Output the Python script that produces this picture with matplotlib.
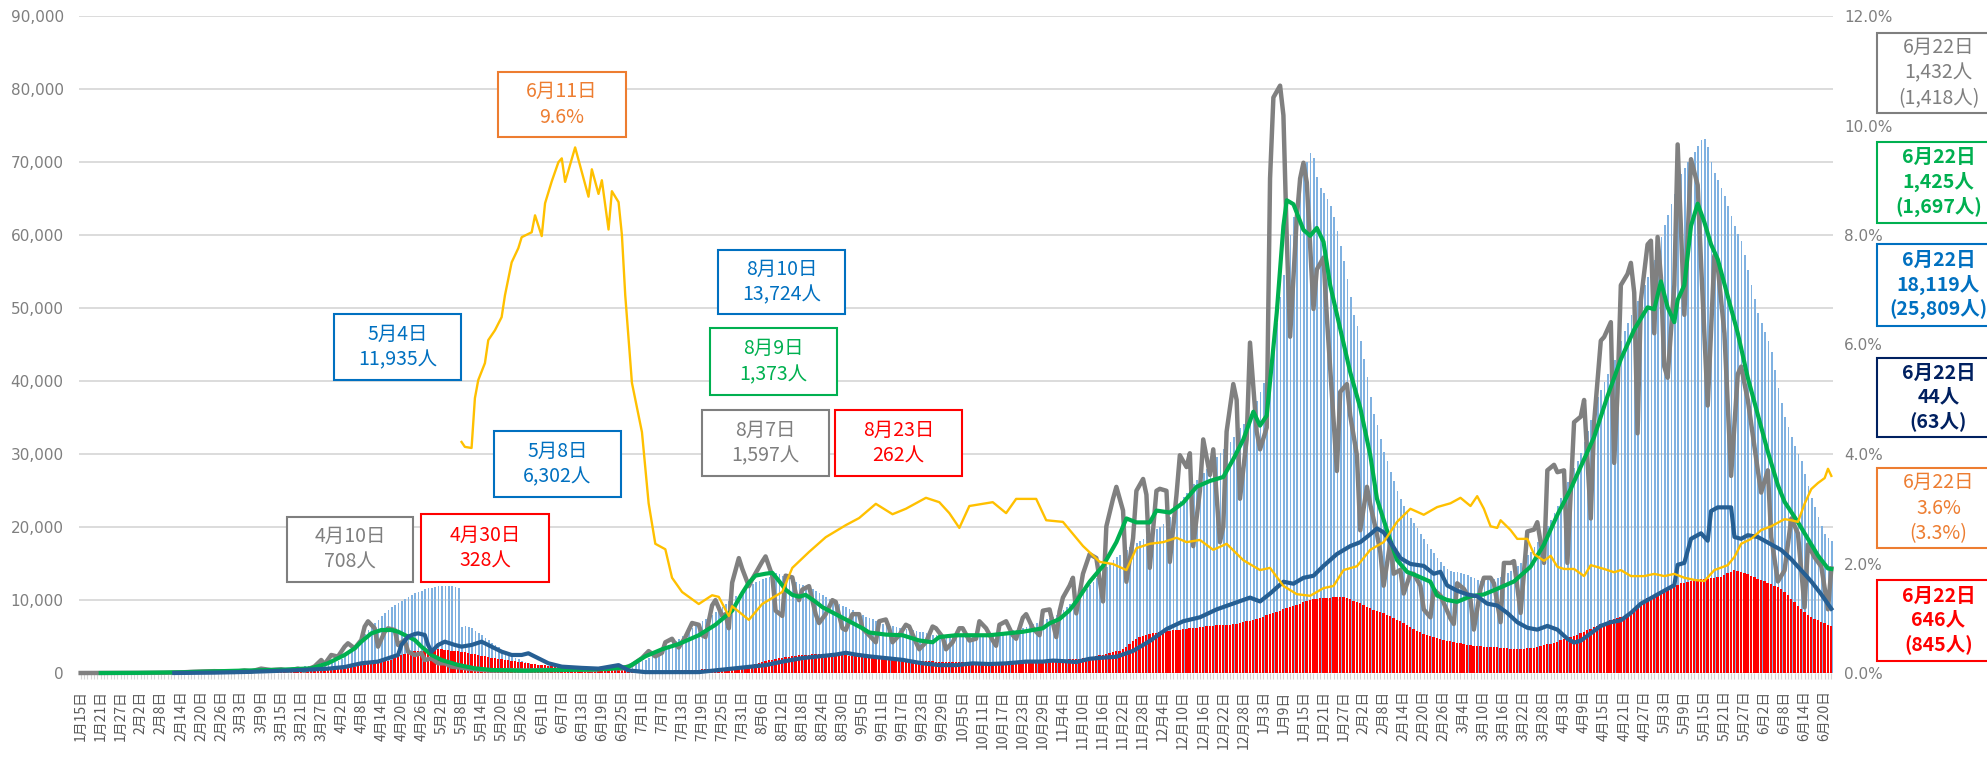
import numpy as np
import pandas as pd
import matplotlib
matplotlib.use('Agg')
import matplotlib.pyplot as plt
from matplotlib.patches import Rectangle
from matplotlib.ticker import FuncFormatter, MultipleLocator, FixedLocator

plt.rcParams['font.family'] = ['Noto Sans CJK JP', 'DejaVu Sans']

START = '2020-01-15'
END = '2021-06-22'

# ---- daily bars: patients requiring treatment (hundreds of people), by month ----
BLUE_HUNDREDS = [
    [0] * 17,
    [0] * 10 + [1] * 10 + [2] * 9,
    [2, 2, 2.5, 3, 3, 3.5, 4, 4, 4.5, 4.5, 5, 5, 5.5, 6, 6, 6.5, 7, 7, 7.5, 8,
     8.5, 9, 9.5, 10, 10.5, 11, 12, 12.5, 13.5, 14, 15],
    [16, 19, 23, 27, 31, 36, 42, 48, 54, 59, 64, 68, 73, 78, 82, 86, 90, 93, 96, 98,
     101, 104, 107, 109, 111, 113, 115, 116, 117, 118],
    [118.5, 119, 119, 119.35, 119, 118, 117, 63.02, 64, 63, 61, 58, 55, 52, 48, 45, 41,
     38, 35, 31, 28, 25, 23, 21, 19, 17, 15, 14, 13, 12, 11.5],
    [11, 10.5, 10, 9.5, 9, 8.5, 8.2, 8, 7.8, 7.6, 7.5, 7.4, 7.3, 7.2, 7.1, 7, 7, 7, 7, 7.1,
     7.2, 7.4, 7.6, 8, 8.5, 9, 10, 11, 12.5, 14],
    [16, 18, 20.5, 23, 26, 29, 32, 35, 38, 41, 44, 47, 51, 55, 58, 62, 65, 68, 71, 74,
     77, 80, 83, 87, 91, 94, 98, 101, 105, 108, 112],
    [116, 119, 122, 124, 126.5, 128.5, 130.5, 132, 134, 137.24, 135, 133.5, 131, 128.5, 126,
     124, 122.5, 121, 119.5, 117, 114.5, 112, 109.5, 107, 104, 101, 98.5, 96, 94, 92, 90],
    [88, 86, 83, 81, 79, 77, 75.5, 73.5, 71.5, 69.5, 67.5, 66, 65, 64, 63, 62, 61.5, 60.5,
     59.5, 58.5, 57.5, 56.5, 55.5, 54.5, 53.5, 52.5, 52, 51.5, 51.5, 51.5],
    [51.5, 51, 51, 51, 51, 51, 51, 51.5, 51.5, 52, 52.5, 53, 53.5, 54, 54.5, 55, 55.5, 56.5,
     57.5, 58.5, 59.5, 60.5, 61.5, 63, 65, 67, 69, 70.5, 72, 73.5, 75],
    [77, 79, 82, 86, 90, 94, 98, 102, 107, 111, 115, 120, 125, 130, 135, 140, 145, 150, 155,
     159, 162, 166, 169, 172, 175, 178, 181, 184, 188, 191],
    [194, 197, 200, 204, 208, 214, 221, 228, 235, 241, 247, 253, 259, 264, 269, 274, 280, 285,
     290, 296, 301, 307, 312, 317, 323, 329, 335, 341, 348, 355, 363],
    [372, 385, 397, 409, 421, 450, 480, 515, 545, 575, 600, 625, 645, 665, 685, 700, 712, 705,
     680, 665, 658, 650, 640, 625, 605, 585, 565, 540, 515, 490, 475],
    [455, 430, 405, 378, 355, 340, 320, 303, 290, 276, 263, 249, 238, 229, 220, 212, 205, 198,
     191, 184, 177, 170, 164, 158, 152, 147, 142, 140],
    [139, 138, 137, 136, 134, 132, 130, 128, 126, 126, 127, 128, 129, 130, 132, 134, 137, 140,
     143, 147, 151, 156, 161, 166, 172, 179, 186, 194, 201, 209, 219],
    [229, 240, 251, 261, 271, 281, 291, 301, 316, 331, 347, 363, 378, 388, 398, 409, 419, 429,
     442, 455, 468, 480, 490, 500, 510, 520, 531, 542, 554, 566],
    [580, 597, 614, 628, 642, 656, 670, 683, 692, 700, 707, 714, 722, 730, 732, 720, 700, 685,
     675, 664, 653, 640, 626, 612, 602, 592, 572, 552, 532, 512, 493],
    [480, 467, 455, 440, 415, 390, 370, 351, 337, 323, 311, 300, 290, 273, 256, 240, 227, 214,
     202, 191, 185, 181.19],
]

# ---- daily bars: severe cases (people), by month; drawn x10 on the left axis ----
RED_SEVERE = [
    [0] * 17,
    [0] * 15 + [1, 1, 2, 2, 3, 3, 4, 4, 5, 5, 6, 6, 7, 8],
    [8, 9, 10, 11, 12, 13, 14, 15, 16, 17, 18, 19, 20, 21, 22, 23, 24, 26, 28, 30,
     32, 34, 36, 38, 40, 42, 45, 48, 51, 54, 57],
    [60, 62, 66, 72, 78, 87, 95, 103, 111, 118, 125, 132, 141, 150, 159, 168, 178, 200, 222,
     240, 260, 278, 292, 297, 300, 303, 306, 312, 320, 328],
    [325, 322, 318, 314, 308, 302, 296, 290, 282, 274, 265, 255, 245, 236, 227, 218, 209, 200,
     193, 186, 179, 172, 165, 158, 151, 144, 137, 131, 125, 119, 114],
    [108, 104, 100, 96, 92, 88, 84, 80, 76, 73, 70, 67, 64, 61, 58, 56, 54, 52, 50, 48,
     46, 44, 42, 41, 40, 39, 38, 37, 36, 35],
    [34, 33, 32, 32, 32, 32, 32, 33, 33, 34, 35, 36, 37, 38, 40, 42, 44, 46, 48, 50,
     53, 56, 59, 62, 65, 68, 72, 76, 80, 85, 90],
    [95, 105, 115, 125, 135, 148, 160, 172, 183, 194, 204, 212, 219, 225, 230, 235, 240, 244,
     248, 252, 256, 259, 262, 260, 258, 256, 254, 251, 248, 244, 240],
    [236, 232, 228, 224, 220, 216, 212, 208, 204, 200, 197, 194, 191, 188, 185, 182, 179, 176,
     173, 170, 168, 166, 164, 162, 160, 158, 156, 154, 152, 150],
    [149, 148, 147, 146, 145, 144, 143, 142, 141, 140, 139, 139, 139, 140, 141, 142, 143, 144,
     145, 147, 149, 151, 153, 155, 157, 159, 161, 163, 165, 167, 170],
    [172, 174, 176, 178, 181, 185, 189, 193, 197, 202, 208, 215, 222, 230, 240, 250, 260, 270,
     282, 295, 308, 322, 360, 400, 440, 470, 490, 505, 520, 535],
    [545, 552, 560, 567, 574, 579, 584, 589, 595, 600, 605, 611, 616, 622, 627, 632, 638, 643,
     649, 654, 656, 658, 660, 663, 665, 675, 686, 697, 708, 719, 730],
    [740, 755, 772, 790, 806, 822, 838, 855, 871, 887, 903, 920, 936, 952, 966, 980, 994, 1008,
     1020, 1024, 1028, 1031, 1034, 1037, 1040, 1043, 1035, 1022, 1007, 990, 972],
    [955, 928, 900, 884, 868, 851, 834, 817, 795, 774, 752, 731, 709, 682, 655, 628, 601, 574,
     558, 541, 525, 508, 492, 478, 465, 451, 438, 432],
    [425, 416, 407, 398, 389, 382, 376, 371, 366, 363, 360, 357, 354, 351, 347, 342, 338, 334,
     331, 332, 333, 335, 338, 341, 349, 358, 368, 379, 391, 403, 417],
    [431, 447, 464, 480, 495, 510, 526, 543, 563, 583, 603, 624, 645, 665, 685, 705, 725, 746,
     760, 773, 787, 802, 822, 860, 900, 940, 985, 1026, 1045, 1065],
    [1085, 1105, 1125, 1146, 1166, 1187, 1208, 1229, 1239, 1249, 1259, 1269, 1279, 1284, 1289,
     1294, 1300, 1305, 1310, 1320, 1340, 1365, 1390, 1413, 1400, 1390, 1375, 1355, 1335, 1310, 1285],
    [1270, 1254, 1234, 1214, 1193, 1173, 1152, 1108, 1064, 1020, 970, 920, 873, 836, 800, 764,
     740, 720, 700, 680, 660, 646],
]

# ---- lines (left axis units) ----
GREY_LINE = [
    ('2020-01-15', 0), ('2020-01-31', 20), ('2020-02-09', 30), ('2020-02-14', 80), ('2020-02-17', 150),
    ('2020-02-20', 200), ('2020-02-24', 250), ('2020-02-28', 200), ('2020-03-01', 150), ('2020-03-04', 350),
    ('2020-03-06', 200), ('2020-03-09', 600), ('2020-03-12', 400), ('2020-03-15', 500), ('2020-03-17', 300),
    ('2020-03-20', 600), ('2020-03-22', 300), ('2020-03-25', 900), ('2020-03-27', 1780), ('2020-03-28', 1200),
    ('2020-03-30', 2470), ('2020-04-01', 2240), ('2020-04-03', 3610), ('2020-04-04', 4070), ('2020-04-06', 3380),
    ('2020-04-08', 4520), ('2020-04-09', 6350), ('2020-04-10', 7080), ('2020-04-12', 6120), ('2020-04-13', 3610),
    ('2020-04-15', 5660), ('2020-04-16', 6120), ('2020-04-18', 5890), ('2020-04-19', 3840), ('2020-04-21', 4520),
    ('2020-04-22', 2920), ('2020-04-24', 2470), ('2020-04-26', 2700), ('2020-04-27', 1780), ('2020-04-29', 2010),
    ('2020-05-01', 1330), ('2020-05-03', 1330), ('2020-05-05', 870), ('2020-05-07', 780), ('2020-05-12', 500),
    ('2020-05-17', 320), ('2020-05-22', 400), ('2020-05-27', 320), ('2020-06-01', 400), ('2020-06-06', 410),
    ('2020-06-11', 500), ('2020-06-16', 400), ('2020-06-21', 700), ('2020-06-25', 600), ('2020-06-28', 1080),
    ('2020-07-01', 2040), ('2020-07-03', 3000), ('2020-07-05', 2280), ('2020-07-07', 2770), ('2020-07-08', 4210),
    ('2020-07-10', 4690), ('2020-07-11', 3970), ('2020-07-12', 3490), ('2020-07-14', 4930), ('2020-07-16', 6850),
    ('2020-07-18', 6610), ('2020-07-19', 5170), ('2020-07-20', 4930), ('2020-07-22', 9260), ('2020-07-23', 9980),
    ('2020-07-25', 7820), ('2020-07-26', 8060), ('2020-07-27', 6130), ('2020-07-28', 12380), ('2020-07-30', 15740),
    ('2020-07-31', 14300), ('2020-08-02', 11900), ('2020-08-03', 12860), ('2020-08-06', 15260), ('2020-08-07', 15970),
    ('2020-08-09', 13340), ('2020-08-10', 8540), ('2020-08-12', 7820), ('2020-08-13', 13340), ('2020-08-15', 13100),
    ('2020-08-16', 10940), ('2020-08-17', 9980), ('2020-08-18', 11420), ('2020-08-20', 11900), ('2020-08-22', 8060),
    ('2020-08-23', 6850), ('2020-08-25', 8060), ('2020-08-27', 9980), ('2020-08-28', 9740), ('2020-08-30', 6130),
    ('2020-08-31', 5890), ('2020-09-02', 8060), ('2020-09-04', 8060), ('2020-09-05', 6130), ('2020-09-07', 5170),
    ('2020-09-09', 4210), ('2020-09-10', 7090), ('2020-09-12', 7330), ('2020-09-13', 6130), ('2020-09-14', 4210),
    ('2020-09-16', 5170), ('2020-09-18', 6610), ('2020-09-19', 6370), ('2020-09-21', 4210), ('2020-09-22', 3250),
    ('2020-09-24', 4210), ('2020-09-26', 6370), ('2020-09-27', 6130), ('2020-09-29', 4930), ('2020-09-30', 3250),
    ('2020-10-02', 4210), ('2020-10-04', 6130), ('2020-10-05', 6130), ('2020-10-07', 4450), ('2020-10-09', 4690),
    ('2020-10-10', 7090), ('2020-10-12', 6130), ('2020-10-14', 4450), ('2020-10-15', 3730), ('2020-10-16', 6610),
    ('2020-10-18', 7090), ('2020-10-20', 5170), ('2020-10-21', 4690), ('2020-10-23', 7570), ('2020-10-24', 8060),
    ('2020-10-26', 6130), ('2020-10-28', 5170), ('2020-10-29', 8540), ('2020-10-31', 8710), ('2020-11-02', 4920),
    ('2020-11-03', 8440), ('2020-11-04', 10330), ('2020-11-06', 11960), ('2020-11-07', 13040), ('2020-11-08', 8170),
    ('2020-11-10', 13590), ('2020-11-12', 16280), ('2020-11-14', 15750), ('2020-11-16', 9800), ('2020-11-17', 20080),
    ('2020-11-19', 23870), ('2020-11-20', 25500), ('2020-11-22', 22250), ('2020-11-23', 12500), ('2020-11-25', 18460),
    ('2020-11-26', 24960), ('2020-11-28', 26580), ('2020-11-29', 24420), ('2020-11-30', 14400), ('2020-12-02', 24960),
    ('2020-12-03', 25230), ('2020-12-05', 24960), ('2020-12-06', 15210), ('2020-12-08', 24420), ('2020-12-09', 29830),
    ('2020-12-11', 28210), ('2020-12-12', 30100), ('2020-12-13', 17380), ('2020-12-15', 24960), ('2020-12-16', 32000),
    ('2020-12-18', 27130), ('2020-12-19', 30640), ('2020-12-21', 17920), ('2020-12-22', 20080), ('2020-12-23', 33080),
    ('2020-12-25', 39580), ('2020-12-26', 37410), ('2020-12-27', 23870), ('2020-12-29', 32000), ('2020-12-30', 45260),
    ('2021-01-01', 33080), ('2021-01-02', 30640), ('2021-01-04', 33620), ('2021-01-05', 67740), ('2021-01-06', 78840),
    ('2021-01-08', 80460), ('2021-01-09', 76400), ('2021-01-10', 59610), ('2021-01-11', 46070), ('2021-01-13', 62320),
    ('2021-01-14', 67740), ('2021-01-15', 69900), ('2021-01-16', 67190), ('2021-01-18', 49870), ('2021-01-19', 55280),
    ('2021-01-21', 56910), ('2021-01-22', 48780), ('2021-01-25', 27670), ('2021-01-26', 38500), ('2021-01-28', 39580),
    ('2021-01-29', 35250), ('2021-01-31', 29830), ('2021-02-01', 19550), ('2021-02-03', 25500), ('2021-02-04', 23060),
    ('2021-02-06', 19000), ('2021-02-07', 16560), ('2021-02-08', 11960), ('2021-02-10', 17920), ('2021-02-11', 13590),
    ('2021-02-13', 14130), ('2021-02-14', 10880), ('2021-02-16', 13590), ('2021-02-17', 13590), ('2021-02-19', 11960),
    ('2021-02-20', 8710), ('2021-02-22', 7630), ('2021-02-23', 11420), ('2021-02-25', 10610), ('2021-02-28', 7470),
    ('2021-03-01', 6710), ('2021-03-02', 12290), ('2021-03-04', 11530), ('2021-03-06', 10030), ('2021-03-07', 5950),
    ('2021-03-09', 11530), ('2021-03-10', 13050), ('2021-03-12', 13050), ('2021-03-13', 12290), ('2021-03-15', 6960),
    ('2021-03-16', 15080), ('2021-03-18', 15080), ('2021-03-19', 15330), ('2021-03-21', 8230), ('2021-03-23', 19390),
    ('2021-03-25', 19640), ('2021-03-26', 20660), ('2021-03-28', 15080), ('2021-03-29', 27760), ('2021-03-31', 28520),
    ('2021-04-01', 27510), ('2021-04-03', 27760), ('2021-04-04', 15080), ('2021-04-06', 34360), ('2021-04-08', 35120),
    ('2021-04-09', 37400), ('2021-04-11', 21160), ('2021-04-12', 34360), ('2021-04-14', 45520), ('2021-04-15', 46030),
    ('2021-04-17', 48060), ('2021-04-18', 28780), ('2021-04-19', 38410), ('2021-04-20', 53130), ('2021-04-22', 54660),
    ('2021-04-23', 56180), ('2021-04-24', 52120), ('2021-04-25', 32830), ('2021-04-26', 51100), ('2021-04-28', 58710),
    ('2021-04-29', 59220), ('2021-04-30', 46540), ('2021-05-01', 59730), ('2021-05-02', 54150), ('2021-05-03', 41970),
    ('2021-05-04', 40450), ('2021-05-06', 53130), ('2021-05-07', 72410), ('2021-05-09', 49070), ('2021-05-11', 70380),
    ('2021-05-13', 66830), ('2021-05-14', 56180), ('2021-05-16', 36640), ('2021-05-18', 57190), ('2021-05-19', 55670),
    ('2021-05-21', 46540), ('2021-05-23', 27000), ('2021-05-25', 40950), ('2021-05-26', 41970), ('2021-05-28', 37400),
    ('2021-05-31', 27760), ('2021-06-01', 24720), ('2021-06-03', 27760), ('2021-06-04', 18630), ('2021-06-06', 12540),
    ('2021-06-08', 14060), ('2021-06-10', 21160), ('2021-06-12', 19130), ('2021-06-14', 8990), ('2021-06-15', 17610),
    ('2021-06-17', 15840), ('2021-06-19', 14570), ('2021-06-21', 8730), ('2021-06-22', 14320),
]

GREEN_LINE = [
    ('2020-01-21', 0), ('2020-02-01', 20), ('2020-02-14', 100), ('2020-03-01', 300), ('2020-03-15', 450),
    ('2020-03-24', 640), ('2020-03-29', 1330), ('2020-04-03', 2470), ('2020-04-06', 3380), ('2020-04-08', 4290),
    ('2020-04-11', 5430), ('2020-04-14', 5890), ('2020-04-17', 5890), ('2020-04-19', 5660), ('2020-04-21', 5210),
    ('2020-04-24', 4520), ('2020-04-26', 3610), ('2020-04-29', 2470), ('2020-05-02', 1780), ('2020-05-07', 1100),
    ('2020-05-12', 640), ('2020-05-17', 410), ('2020-05-27', 320), ('2020-06-06', 410), ('2020-06-13', 450),
    ('2020-06-21', 550), ('2020-06-27', 840), ('2020-07-02', 2280), ('2020-07-07', 3250), ('2020-07-12', 3970),
    ('2020-07-18', 5170), ('2020-07-23', 6610), ('2020-07-28', 8530), ('2020-07-31', 10940), ('2020-08-02', 12380),
    ('2020-08-04', 13340), ('2020-08-07', 13600), ('2020-08-09', 13730), ('2020-08-11', 12620), ('2020-08-13', 11420),
    ('2020-08-15', 10700), ('2020-08-17', 10460), ('2020-08-19', 10700), ('2020-08-22', 9740), ('2020-08-24', 9020),
    ('2020-08-27', 8300), ('2020-08-30', 7570), ('2020-09-02', 6850), ('2020-09-05', 6130), ('2020-09-07', 5550),
    ('2020-09-12', 5260), ('2020-09-17', 5170), ('2020-09-22', 4450), ('2020-09-26', 4210), ('2020-09-28', 4930),
    ('2020-10-03', 5170), ('2020-10-08', 5170), ('2020-10-13', 5170), ('2020-10-18', 5410), ('2020-10-23', 5650),
    ('2020-10-29', 6130), ('2020-10-31', 6800), ('2020-11-03', 7400), ('2020-11-06', 8600), ('2020-11-08', 9800),
    ('2020-11-12', 12500), ('2020-11-16', 14670), ('2020-11-20', 17920), ('2020-11-23', 21170), ('2020-11-26', 20630),
    ('2020-11-30', 20630), ('2020-12-02', 22250), ('2020-12-06', 21980), ('2020-12-10', 23330), ('2020-12-14', 25500),
    ('2020-12-18', 26310), ('2020-12-22', 26850), ('2020-12-25', 29290), ('2020-12-28', 31990), ('2020-12-31', 35790),
    ('2021-01-02', 33890), ('2021-01-04', 35250), ('2021-01-07', 49330), ('2021-01-09', 61240), ('2021-01-10', 64760),
    ('2021-01-12', 64220), ('2021-01-15', 60700), ('2021-01-17', 59890), ('2021-01-19', 60970), ('2021-01-21', 59070),
    ('2021-01-23', 53120), ('2021-01-26', 47160), ('2021-01-29', 41200), ('2021-02-01', 36330), ('2021-02-04', 29830),
    ('2021-02-06', 23870), ('2021-02-09', 19540), ('2021-02-12', 15480), ('2021-02-15', 13860), ('2021-02-18', 13310),
    ('2021-02-22', 12500), ('2021-02-24', 10610), ('2021-02-27', 10000), ('2021-03-02', 9750), ('2021-03-06', 10510),
    ('2021-03-10', 10760), ('2021-03-14', 11530), ('2021-03-19', 12540), ('2021-03-24', 14570), ('2021-03-28', 17610),
    ('2021-04-01', 21670), ('2021-04-05', 25220), ('2021-04-08', 28270), ('2021-04-12', 32330), ('2021-04-16', 37910),
    ('2021-04-20', 42980), ('2021-04-24', 47040), ('2021-04-28', 50090), ('2021-04-30', 49830), ('2021-05-02', 53640),
    ('2021-05-04', 50090), ('2021-05-06', 48060), ('2021-05-07', 51100), ('2021-05-09', 53130), ('2021-05-11', 61250),
    ('2021-05-13', 64290), ('2021-05-15', 61760), ('2021-05-17', 58710), ('2021-05-19', 56680), ('2021-05-22', 51610),
    ('2021-05-25', 46540), ('2021-05-28', 40450), ('2021-05-31', 35370), ('2021-06-03', 30300), ('2021-06-06', 25730),
    ('2021-06-08', 23450), ('2021-06-12', 20660), ('2021-06-15', 18380), ('2021-06-18', 16090), ('2021-06-21', 14320),
    ('2021-06-22', 14250),
]

NAVY_LINE = [
    ('2020-02-12', 0), ('2020-02-24', 50), ('2020-03-05', 150), ('2020-03-15', 300), ('2020-03-19', 370),
    ('2020-03-29', 590), ('2020-04-03', 820), ('2020-04-08', 1330), ('2020-04-13', 1560), ('2020-04-16', 2010),
    ('2020-04-19', 2470), ('2020-04-20', 3840), ('2020-04-22', 4980), ('2020-04-24', 5340), ('2020-04-25', 5430),
    ('2020-04-27', 5210), ('2020-04-28', 3840), ('2020-04-29', 2920), ('2020-05-01', 3840), ('2020-05-03', 4290),
    ('2020-05-06', 3840), ('2020-05-08', 3610), ('2020-05-11', 3840), ('2020-05-14', 4290), ('2020-05-17', 3610),
    ('2020-05-20', 2920), ('2020-05-23', 2470), ('2020-05-26', 2470), ('2020-05-28', 2700), ('2020-05-31', 2010),
    ('2020-06-03', 1330), ('2020-06-07', 870), ('2020-06-13', 700), ('2020-06-18', 600), ('2020-06-24', 1080),
    ('2020-06-27', 360), ('2020-07-02', 120), ('2020-07-18', 120), ('2020-07-23', 360), ('2020-07-28', 600),
    ('2020-08-02', 840), ('2020-08-07', 1080), ('2020-08-12', 1560), ('2020-08-18', 2040), ('2020-08-23', 2280),
    ('2020-08-28', 2520), ('2020-08-31', 2770), ('2020-09-03', 2520), ('2020-09-07', 2280), ('2020-09-12', 2040),
    ('2020-09-17', 1800), ('2020-09-23', 1320), ('2020-09-28', 1080), ('2020-10-03', 1080), ('2020-10-08', 1320),
    ('2020-10-13', 1230), ('2020-10-18', 1320), ('2020-10-24', 1560), ('2020-10-29', 1560), ('2020-11-01', 1700),
    ('2020-11-05', 1600), ('2020-11-08', 1500), ('2020-11-12', 1950), ('2020-11-16', 2100), ('2020-11-20', 2220),
    ('2020-11-25', 3030), ('2020-11-30', 4380), ('2020-12-05', 6010), ('2020-12-10', 7090), ('2020-12-15', 7630),
    ('2020-12-20', 8710), ('2020-12-25', 9520), ('2020-12-30', 10330), ('2021-01-02', 9800), ('2021-01-05', 10880),
    ('2021-01-09', 12500), ('2021-01-12', 12230), ('2021-01-15', 13040), ('2021-01-18', 13320), ('2021-01-21', 14670),
    ('2021-01-25', 16290), ('2021-01-29', 17380), ('2021-02-01', 17920), ('2021-02-04', 19000), ('2021-02-06', 19810),
    ('2021-02-08', 19270), ('2021-02-10', 17920), ('2021-02-13', 15750), ('2021-02-16', 14940), ('2021-02-20', 14670),
    ('2021-02-23', 13590), ('2021-02-25', 13860), ('2021-02-27', 12000), ('2021-03-02', 11270), ('2021-03-05', 10770),
    ('2021-03-08', 10510), ('2021-03-11', 9500), ('2021-03-14', 9240), ('2021-03-17', 8230), ('2021-03-20', 6960),
    ('2021-03-23', 6200), ('2021-03-26', 5940), ('2021-03-29', 6450), ('2021-04-01', 5940), ('2021-04-04', 4680),
    ('2021-04-06', 4170), ('2021-04-08', 4420), ('2021-04-11', 5430), ('2021-04-14', 6450), ('2021-04-17', 6960),
    ('2021-04-20', 7210), ('2021-04-23', 8230), ('2021-04-26', 9500), ('2021-04-28', 10000), ('2021-05-01', 10770),
    ('2021-05-04', 11530), ('2021-05-06', 12030), ('2021-05-07', 14820), ('2021-05-09', 15080), ('2021-05-11', 18380),
    ('2021-05-14', 19140), ('2021-05-16', 18120), ('2021-05-17', 22180), ('2021-05-19', 22690), ('2021-05-21', 22690),
    ('2021-05-23', 22690), ('2021-05-24', 18630), ('2021-05-26', 18380), ('2021-05-28', 18880), ('2021-05-31', 18630),
    ('2021-06-03', 17870), ('2021-06-05', 17360), ('2021-06-07', 16850), ('2021-06-10', 15590), ('2021-06-13', 14070),
    ('2021-06-16', 12540), ('2021-06-19', 10770), ('2021-06-22', 8800),
]

# positivity rate (%), right axis
YELLOW_LINE = [
    ('2020-05-08', 4.22), ('2020-05-09', 4.13), ('2020-05-11', 4.11), ('2020-05-12', 5.02), ('2020-05-13', 5.35),
    ('2020-05-15', 5.66), ('2020-05-16', 6.08), ('2020-05-18', 6.26), ('2020-05-20', 6.5), ('2020-05-21', 6.9),
    ('2020-05-23', 7.5), ('2020-05-25', 7.76), ('2020-05-26', 7.96), ('2020-05-29', 8.05), ('2020-05-30', 8.36),
    ('2020-06-01', 7.98), ('2020-06-02', 8.58), ('2020-06-04', 8.98), ('2020-06-06', 9.33), ('2020-06-07', 9.4),
    ('2020-06-08', 8.97), ('2020-06-11', 9.6), ('2020-06-15', 8.7), ('2020-06-16', 9.2), ('2020-06-18', 8.75),
    ('2020-06-19', 9.0), ('2020-06-21', 8.1), ('2020-06-22', 8.8), ('2020-06-24', 8.6), ('2020-06-25', 8.0),
    ('2020-06-26', 6.9), ('2020-06-28', 5.3), ('2020-07-01', 4.4), ('2020-07-03', 3.1), ('2020-07-05', 2.36),
    ('2020-07-08', 2.26), ('2020-07-10', 1.74), ('2020-07-13', 1.48), ('2020-07-18', 1.26), ('2020-07-22', 1.42),
    ('2020-07-24', 1.39), ('2020-07-27', 1.04), ('2020-07-28', 1.22), ('2020-08-02', 0.97), ('2020-08-06', 1.26),
    ('2020-08-12', 1.48), ('2020-08-15', 1.92), ('2020-08-20', 2.21), ('2020-08-25', 2.48), ('2020-08-31', 2.70),
    ('2020-09-04', 2.83), ('2020-09-09', 3.09), ('2020-09-14', 2.90), ('2020-09-18', 3.0), ('2020-09-24', 3.2),
    ('2020-09-28', 3.12), ('2020-10-01', 2.92), ('2020-10-04', 2.65), ('2020-10-07', 3.05), ('2020-10-14', 3.12),
    ('2020-10-18', 2.92), ('2020-10-21', 3.18), ('2020-10-27', 3.18), ('2020-10-30', 2.79), ('2020-11-04', 2.76),
    ('2020-11-10', 2.32), ('2020-11-15', 2.03), ('2020-11-19', 1.99), ('2020-11-23', 1.88), ('2020-11-26', 2.28),
    ('2020-11-30', 2.36), ('2020-12-04', 2.39), ('2020-12-08', 2.47), ('2020-12-11', 2.39), ('2020-12-15', 2.43),
    ('2020-12-19', 2.25), ('2020-12-23', 2.36), ('2020-12-28', 2.06), ('2021-01-02', 1.88), ('2021-01-05', 1.92),
    ('2021-01-09', 1.59), ('2021-01-13', 1.44), ('2021-01-17', 1.41), ('2021-01-21', 1.55), ('2021-01-24', 1.59),
    ('2021-01-27', 1.88), ('2021-01-31', 1.95), ('2021-02-04', 2.25), ('2021-02-08', 2.39), ('2021-02-12', 2.76),
    ('2021-02-16', 3.0), ('2021-02-20', 2.89), ('2021-02-24', 3.03), ('2021-02-28', 3.1), ('2021-03-03', 3.2),
    ('2021-03-06', 3.05), ('2021-03-08', 3.23), ('2021-03-10', 3.0), ('2021-03-12', 2.68), ('2021-03-14', 2.65),
    ('2021-03-15', 2.79), ('2021-03-18', 2.61), ('2021-03-20', 2.45), ('2021-03-23', 2.45), ('2021-03-25', 2.17),
    ('2021-03-28', 2.05), ('2021-03-30', 2.14), ('2021-04-01', 1.94), ('2021-04-03', 1.90), ('2021-04-06', 1.90),
    ('2021-04-09', 1.77), ('2021-04-11', 1.97), ('2021-04-15', 1.90), ('2021-04-18', 1.84), ('2021-04-20', 1.88),
    ('2021-04-23', 1.77), ('2021-04-27', 1.77), ('2021-04-30', 1.81), ('2021-05-03', 1.77), ('2021-05-06', 1.81),
    ('2021-05-09', 1.74), ('2021-05-12', 1.70), ('2021-05-15', 1.68), ('2021-05-18', 1.88), ('2021-05-22', 1.97),
    ('2021-05-24', 2.12), ('2021-05-26', 2.36), ('2021-05-29', 2.45), ('2021-06-01', 2.61), ('2021-06-04', 2.68),
    ('2021-06-08', 2.81), ('2021-06-10', 2.79), ('2021-06-12', 2.76), ('2021-06-14', 3.09), ('2021-06-16', 3.36),
    ('2021-06-18', 3.47), ('2021-06-20', 3.56), ('2021-06-21', 3.73), ('2021-06-22', 3.6),
]

LEFT_TICKS = list(range(0, 90001, 10000))
RIGHT_TICKS = [0, 2, 4, 6, 8, 10, 12]

# annotation boxes: (text, color, bold)
LEFT_NOTES = [
    ('6月11日\n9.6%', '#ED7D31', False),
    ('5月4日\n11,935人', '#0070C0', False),
    ('5月8日\n6,302人', '#0070C0', False),
    ('4月10日\n708人', '#7F7F7F', False),
    ('4月30日\n328人', '#FF0000', False),
    ('8月10日\n13,724人', '#0070C0', False),
    ('8月9日\n1,373人', '#00B050', False),
    ('8月7日\n1,597人', '#7F7F7F', False),
    ('8月23日\n262人', '#FF0000', False),
]
RIGHT_NOTES = [
    ('6月22日\n1,432人\n(1,418人)', '#7F7F7F', False),
    ('6月22日\n1,425人\n(1,697人)', '#00B050', True),
    ('6月22日\n18,119人\n(25,809人)', '#0070C0', True),
    ('6月22日\n44人\n(63人)', '#002060', True),
    ('6月22日\n3.6%\n(3.3%)', '#ED7D31', False),
    ('6月22日\n646人\n(845人)', '#FF0000', True),
]

# ---------------------------------------------------------------
W, H = 1987, 759
fig = plt.figure(figsize=(W / 100, H / 100), dpi=100)
fig.patch.set_facecolor('white')

dates = pd.date_range(START, END, freq='D')
n = len(dates)
x = np.arange(n)
start_ts = pd.Timestamp(START)


def series_xy(pairs):
    xs = np.array([(pd.Timestamp(d) - start_ts).days for d, _ in pairs])
    ys = np.array([v for _, v in pairs], dtype=float)
    return xs, ys


blue = np.concatenate([np.array(m, dtype=float) for m in BLUE_HUNDREDS]) * 100
red = np.concatenate([np.array(m, dtype=float) for m in RED_SEVERE]) * 10

L, R, T, B = 79, 1833, 16, 673
ax = fig.add_axes([L / W, 1 - B / H, (R - L) / W, (B - T) / H])
ax.set_xlim(-0.5, n - 0.5)
ax.set_ylim(0, 90000)

ax.bar(x + 0.15, blue, width=0.5, color='#7FB1E1', linewidth=0, zorder=1)
ax.bar(x - 0.05, red, width=0.72, color='#FF0000', linewidth=0, zorder=2)

gx, gy = series_xy(GREY_LINE)
ax.plot(gx, gy, color='#808080', lw=3.2, zorder=3, solid_joinstyle='round', clip_on=False)
grx, gry = series_xy(GREEN_LINE)
ax.plot(grx, gry, color='#00B050', lw=3.0, zorder=4, solid_joinstyle='round', clip_on=False)
nx, ny = series_xy(NAVY_LINE)
ax.plot(nx, ny, color='#265F93', lw=3.0, zorder=5, solid_joinstyle='round', clip_on=False)

ax.set_yticks(LEFT_TICKS)
ax.yaxis.set_major_formatter(FuncFormatter(lambda v, p: f'{int(v):,}'))
ax.yaxis.grid(True, color='#D9D9D9', lw=1.3)
ax.set_axisbelow(True)
for s in ax.spines.values():
    s.set_visible(False)
ax.tick_params(axis='y', length=0, pad=11, labelsize=11, labelcolor='#7F7F7F')
for lab in ax.get_yticklabels():
    lab.set_family('DejaVu Sans')

tick_idx = list(range(0, n, 6))
ax.xaxis.set_major_locator(FixedLocator(tick_idx))
ax.set_xticklabels([f'{dates[i].month}月{dates[i].day}日' for i in tick_idx],
                   rotation=90, fontsize=10, color='#595959')
ax.xaxis.set_minor_locator(MultipleLocator(1))
ax.tick_params(axis='x', which='both', length=4.5, width=0.8, color='#D5D5D5', pad=8)

ax2 = ax.twinx()
ax2.set_xlim(-0.5, n - 0.5)
ax2.set_ylim(0, 12)
yx, yy = series_xy(YELLOW_LINE)
ax2.plot(yx, yy, color='#FFC000', lw=1.7, zorder=6, solid_joinstyle='round')
ax2.set_yticks(RIGHT_TICKS)
ax2.yaxis.set_major_formatter(FuncFormatter(lambda v, p: f'{v:.1f}%'))
for s in ax2.spines.values():
    s.set_visible(False)
ax2.tick_params(axis='y', length=0, pad=8, labelsize=11, labelcolor='#7F7F7F')
for lab in ax2.get_yticklabels():
    lab.set_family('DejaVu Sans')


def box(x0, y0, x1, y1, text, color, bold):
    fig.add_artist(Rectangle((x0 / W, 1 - y1 / H), (x1 - x0) / W, (y1 - y0) / H,
                             transform=fig.transFigure, facecolor='white',
                             edgecolor=color, lw=1.5, zorder=10))
    fig.text((x0 + x1) / 2 / W, 1 - (y0 + y1) / 2 / H, text, ha='center', va='center',
             color=color, fontsize=14, linespacing=1.3, zorder=11,
             fontweight='bold' if bold else 'normal')


LEFT_BOXES = [
    (498, 72, 626, 137), (334, 314, 461, 380), (494, 431, 621, 497),
    (287, 517, 413, 582), (421, 514, 549, 582), (718, 250, 845, 314),
    (710, 328, 837, 395), (702, 410, 829, 476), (835, 410, 962, 476),
]
for (txt, col, bold), (x0, y0, x1, y1) in zip(LEFT_NOTES, LEFT_BOXES):
    box(x0, y0, x1, y1, txt, col, bold)

RIGHT_BOXES_Y = [(33, 113), (142, 223), (244, 326), (358, 437), (468, 548), (580, 661)]
for (txt, col, bold), (y0, y1) in zip(RIGHT_NOTES, RIGHT_BOXES_Y):
    box(1877, y0, 2000, y1, txt, col, bold)

fig.savefig('out.png', dpi=100, facecolor='white')
